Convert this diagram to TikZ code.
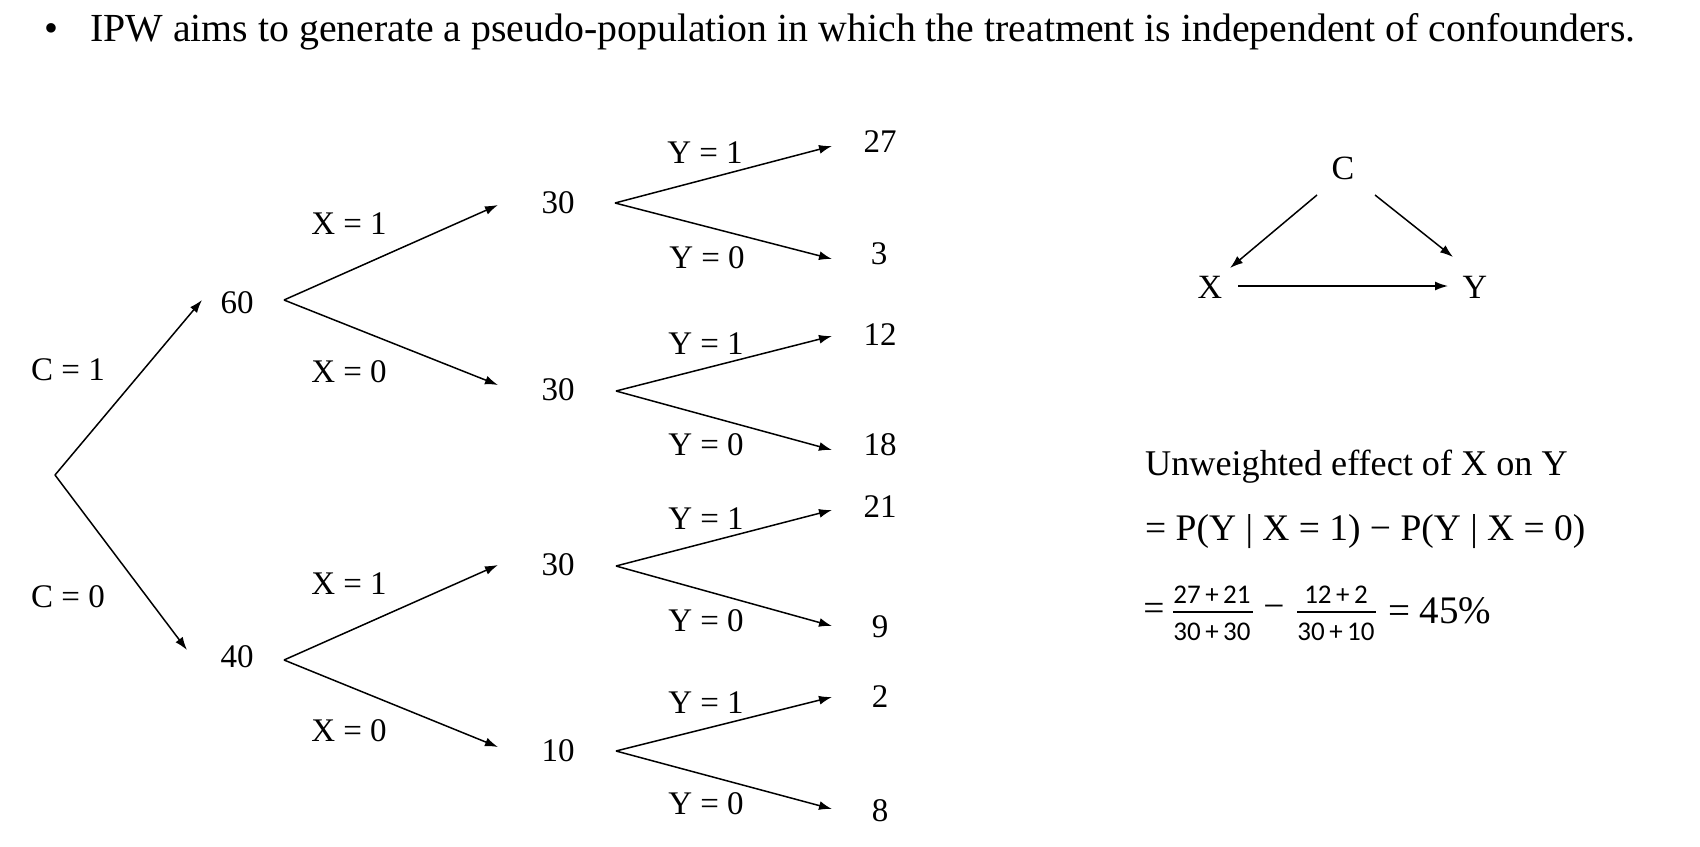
\documentclass[tikz,border=0pt]{standalone}
\usepackage{fontspec}
\setmainfont{Liberation Serif}
\newfontfamily\carl{Carlito}
\usetikzlibrary{arrows.meta}
\begin{document}
\begin{tikzpicture}[x=1pt,y=-1pt,
  arr/.style={-{Latex[length=13pt,width=9pt]}, line width=1.5pt},
  tnum/.style={font=\fontsize{33}{40}\selectfont, inner sep=0pt},
  tlab/.style={font=\fontsize{33}{40}\selectfont, inner sep=0pt},
  dag/.style={font=\fontsize{34}{40}\selectfont, inner sep=0pt},
  frac/.style={font=\carl\fontsize{27}{32}\selectfont, inner sep=0pt},
  big/.style={font=\fontsize{37.5}{44}\selectfont, inner sep=0pt}]
\useasboundingbox (0,0) rectangle (1700,846);
\fill[white] (0,0) rectangle (1700,846);

% title
\node[font=\fontsize{39.8}{48}\selectfont, anchor=base, inner sep=0pt] (bullet) at (51,41) {•};
\node[font=\fontsize{39.8}{48}\selectfont, anchor=base west, inner sep=0pt] (title) at (90,41)
  {IPW aims to generate a pseudo-population in which the treatment is independent of confounders.};

% tree
\coordinate (root) at (55,475);
\node[tnum] (n60) at (237,303) {60};
\node[tnum] (n40) at (237,657) {40};
\node[tlab] (c1) at (68,370) {C = 1};
\node[tlab] (c0) at (68,597) {C = 0};
\draw[arr] (root) -- ([shift={(-35,-3)}]n60.center);
\draw[arr] (root) -- ([shift={(-50,-7)}]n40.center);

\node[tnum] (n30a) at (558,203) {30};
\node[tnum] (n30b) at (558,390) {30};
\node[tnum] (n30c) at (558,565) {30};
\node[tnum] (n10) at (558,751) {10};

\node[tlab] (x1a) at (349,224) {X = 1};
\node[tlab] (x0a) at (349,372) {X = 0};
\node[tlab] (x1b) at (349,584) {X = 1};
\node[tlab] (x0b) at (349,731) {X = 0};

\draw[arr] ([shift={(47,-3)}]n60.center) -- ([shift={(-60,2)}]n30a.center);
\draw[arr] ([shift={(47,-3)}]n60.center) -- ([shift={(-60,-5)}]n30b.center);
\draw[arr] ([shift={(47,3)}]n40.center) -- ([shift={(-60,0)}]n30c.center);
\draw[arr] ([shift={(47,3)}]n40.center) -- ([shift={(-60,-4)}]n10.center);

% leaves
\node[tnum] (l27) at (880,142) {27};
\node[tnum] (l3) at (879,254) {3};
\node[tnum] (l12) at (880,335) {12};
\node[tnum] (l18) at (880,445) {18};
\node[tnum] (l21) at (880,507) {21};
\node[tnum] (l9) at (880,627) {9};
\node[tnum] (l2) at (880,697) {2};
\node[tnum] (l8) at (880,811) {8};

\node[tlab] (y1a) at (705,153) {Y = 1};
\node[tlab] (y0a) at (707,258) {Y = 0};
\node[tlab] (y1b) at (706,344) {Y = 1};
\node[tlab] (y0b) at (706,445) {Y = 0};
\node[tlab] (y1c) at (706,519) {Y = 1};
\node[tlab] (y0c) at (706,621) {Y = 0};
\node[tlab] (y1d) at (706,703) {Y = 1};
\node[tlab] (y0d) at (706,804) {Y = 0};

\draw[arr] ([shift={(57,0)}]n30a.center) -- ([shift={(-48,4)}]l27.center);
\draw[arr] ([shift={(57,0)}]n30a.center) -- ([shift={(-47,5)}]l3.center);
\draw[arr] ([shift={(58,1)}]n30b.center) -- ([shift={(-48,1)}]l12.center);
\draw[arr] ([shift={(58,1)}]n30b.center) -- ([shift={(-48,5)}]l18.center);
\draw[arr] ([shift={(58,1)}]n30c.center) -- ([shift={(-48,3)}]l21.center);
\draw[arr] ([shift={(58,1)}]n30c.center) -- ([shift={(-48,-1)}]l9.center);
\draw[arr] ([shift={(58,0)}]n10.center) -- ([shift={(-48,0)}]l2.center);
\draw[arr] ([shift={(58,0)}]n10.center) -- ([shift={(-48,-2)}]l8.center);

% DAG
\node[dag] (C) at (1343,168) {C};
\node[dag] (X) at (1210,287) {X};
\node[dag] (Y) at (1475,287) {Y};
\draw[arr] ([shift={(-26,27)}]C.center) -- ([shift={(20,-19)}]X.center);
\draw[arr] ([shift={(32,27)}]C.center) -- ([shift={(-22,-30)}]Y.center);
\draw[arr] ([shift={(28,-1)}]X.center) -- ([shift={(-27,-1)}]Y.center);

% formula
\node[font=\fontsize{36.2}{42}\selectfont, anchor=base west, inner sep=0pt] (uw) at (1145,475) {Unweighted effect of X on Y};
\node[big, anchor=base west] (pe) at (1145,540) {= P(Y | X = 1) − P(Y | X = 0)};
\node[big] (eq1) at (1154,612) {=};
\node[frac] (num1) at (1212,595) {27\,+\,21};
\node[frac] (den1) at (1212,632) {30\,+\,30};
\draw[line width=1.4pt] (1173,612) -- (1253,612);
\node[big] (minus) at (1274,612) {−};
\node[frac] (num2) at (1336,595) {12\,+\,2};
\node[frac] (den2) at (1336,632) {30\,+\,10};
\draw[line width=1.4pt] (1297,612) -- (1376,612);
\node[big, anchor=west, font=\fontsize{39}{46}\selectfont] (res) at (1388,611) {= 45\%};
\end{tikzpicture}
\end{document}
